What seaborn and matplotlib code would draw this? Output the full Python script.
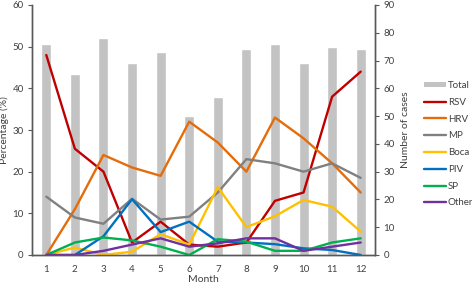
import numpy as np
import pandas as pd
import matplotlib
matplotlib.use("Agg")
import matplotlib.pyplot as plt
import seaborn as sns
from matplotlib.patches import Patch
from matplotlib.lines import Line2D

# monthly data
months = [1, 2, 3, 4, 5, 6, 7, 8, 9, 10, 11, 12]
total_cases = [76, 65, 78, 69, 73, 50, 57, 74, 76, 69, 75, 74]
rsv = [48, 25.5, 20, 3, 8, 2.5, 2, 3, 13, 15, 38, 44]
hrv = [0, 11, 24, 21, 19, 32, 27, 20, 33, 28, 22, 15]
mp = [14, 9, 7.5, 13.5, 8.5, 9.2, 15, 23, 22, 20, 22, 18.5]
boca = [0, 1.8, 0, 0.8, 5, 2.5, 16.3, 6.7, 9.3, 13.2, 11.6, 5.6]
piv = [0, 0, 4.5, 13.4, 5.5, 8, 3.2, 3, 2.6, 1.6, 1.2, 0]
sp = [0, 3, 4.2, 3.5, 2, 0, 3.8, 3.2, 1, 1, 3, 4]
other = [0, 0, 1, 2.5, 4, 2, 2.8, 4, 4, 1, 2, 3]

viruses = ["RSV", "HRV", "MP", "Boca", "PIV", "SP", "Other"]
colors = {"RSV": "#C00000", "HRV": "#E46C0A", "MP": "#808080", "Boca": "#FFC000",
          "PIV": "#0070C0", "SP": "#00B050", "Other": "#7030A0"}

series = dict(zip(viruses, [rsv, hrv, mp, boca, piv, sp, other]))
df_lines = pd.DataFrame([
    {"month": m, "virus": v, "pct": p}
    for v in viruses for m, p in zip(months, series[v])
])
df_total = pd.DataFrame({"month": months, "total": total_cases})

sns.set_theme(style="white")
plt.rcParams["font.family"] = ["Lato", "DejaVu Sans"]
txt = "#404040"
spine_c = "#595959"
bar_c = "#C3C3C3"

fig = plt.figure(figsize=(4.72, 2.87), dpi=100)
ax_bar = fig.add_axes([32 / 472, 32 / 287, 343 / 472, 250 / 287])
ax = ax_bar.twinx()

# bars (number of cases) on the right-hand axis, behind the lines
sns.barplot(data=df_total, x="month", y="total", native_scale=True, width=0.35,
            color=bar_c, saturation=1, ax=ax_bar)
ax_bar.set_ylim(0, 90)
ax_bar.set_yticks(range(0, 91, 10))
ax_bar.yaxis.tick_right()
ax_bar.yaxis.set_label_position("right")
ax_bar.set_ylabel("Number of cases", fontsize=7.5, color=txt)
ax_bar.yaxis.set_label_coords(1.075, 0.5)

sns.lineplot(data=df_lines, x="month", y="pct", hue="virus", hue_order=viruses,
             palette=colors, linewidth=1.7, ax=ax, legend=False)
ax.set_ylim(0, 60)
ax.set_yticks(range(0, 61, 10))
ax.yaxis.tick_left()
ax.yaxis.set_label_position("left")
ax.set_ylabel("Percentage (%)", fontsize=7.5, color=txt)
ax.yaxis.set_label_coords(-0.068, 0.5)

for a in (ax, ax_bar):
    a.set_xlim(0.5, 12.5)
    a.set_xticks(months)
    a.set_xticks(np.arange(0.5, 13, 1), minor=True)
    a.spines["top"].set_visible(False)
    for s in ("left", "right", "bottom"):
        a.spines[s].set_color(spine_c)
        a.spines[s].set_linewidth(1.0)
    a.tick_params(axis="y", direction="out", length=3, width=0.8, color=spine_c,
                  labelsize=7, labelcolor=txt, pad=3)
    a.tick_params(axis="x", which="major", length=0, labelsize=7, labelcolor=txt, pad=7)
    a.tick_params(axis="x", which="minor", direction="out", length=3, width=0.8,
                  color=spine_c)
ax_bar.set_xticklabels([str(m) for m in months])
ax_bar.set_xlabel("Month", fontsize=7.5, color=txt)
ax_bar.xaxis.set_label_coords(0.5, -0.078)
ax.set_xlabel("")
ax.tick_params(axis="x", labelbottom=False)

# legend on the right side
handles = [Patch(facecolor=bar_c, edgecolor="none")]
handles += [Line2D([0], [0], color=colors[v], linewidth=1.7) for v in viruses]
fig.legend(handles, ["Total"] + viruses, loc="upper left",
           bbox_to_anchor=(424 / 472, 1 - 81 / 287), frameon=False,
           fontsize=7, labelcolor=txt, handlelength=2.3, handleheight=0.5,
           handletextpad=0.15, labelspacing=0.8, borderpad=0, borderaxespad=0)

fig.savefig("out.png", dpi=100)
